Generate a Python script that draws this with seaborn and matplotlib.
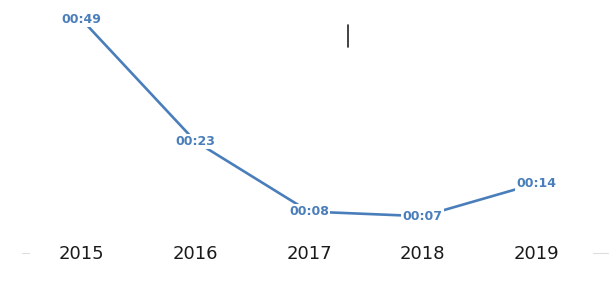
import matplotlib
matplotlib.use("Agg")
import matplotlib.pyplot as plt
from matplotlib.lines import Line2D
import pandas as pd
import seaborn as sns

years = ["2015", "2016", "2017", "2018", "2019"]
seconds = [49, 23, 8, 7, 14]
labels = ["00:49", "00:23", "00:08", "00:07", "00:14"]

sns.set_style("white")
plt.rcParams["font.family"] = ["DejaVu Sans"]

df = pd.DataFrame({"year": years, "sec": seconds})

fig = plt.figure(figsize=(6.1, 2.88), dpi=100)
ax = fig.add_axes([25 / 610, 1 - 249 / 288, 568 / 610, 249 / 288])

blue = "#4A7EBB"
sns.lineplot(data=df, x="year", y="sec", color=blue, linewidth=1.9, ax=ax, sort=False)

for i, (v, lab) in enumerate(zip(seconds, labels)):
    ax.text(i, v, lab, ha="center", va="center", color=blue, fontsize=9,
            fontweight="bold", zorder=5,
            bbox=dict(boxstyle="square,pad=0.1", fc="white", ec="none"))

ax.set_xlim(-0.5, 4.5)
ax.set_ylim(0, 53.2)
ax.set_xlabel("")
ax.set_ylabel("")
ax.set_yticks([])
ax.tick_params(axis="x", length=0, pad=-3, labelsize=13, colors="#1a1a1a")
for s in ["top", "left", "right", "bottom"]:
    ax.spines[s].set_visible(False)

# faint axis ends visible beside the tick labels
for x0, x1 in [(22, 29), (593, 608)]:
    fig.add_artist(Line2D([x0 / 610, x1 / 610], [1 - 253 / 288] * 2,
                          color="#dddddd", linewidth=0.8))

# cursor artifact
fig.add_artist(Line2D([348 / 610, 348 / 610], [1 - 25 / 288, 1 - 47 / 288],
                      color="#222222", linewidth=1.2))

fig.savefig("out.png", dpi=100)
